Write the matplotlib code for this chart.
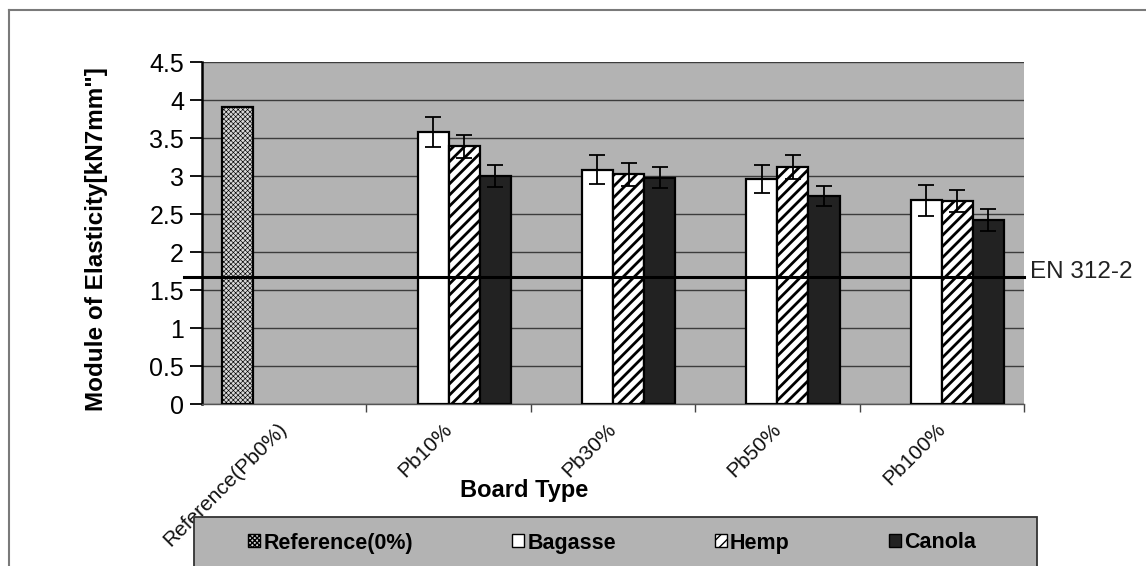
import numpy as np
import matplotlib
matplotlib.use("Agg")
import matplotlib.pyplot as plt
import matplotlib.transforms as mtransforms
from matplotlib.patches import Patch, Rectangle
from matplotlib.lines import Line2D

plt.rcParams['font.family'] = ['Liberation Sans', 'DejaVu Sans']

# ---- data ----
categories = ['Reference(Pb0%)', 'Pb10%', 'Pb30%', 'Pb50%', 'Pb100%']
series_names = ['Reference(0%)', 'Bagasse', 'Hemp', 'Canola']
reference = [3.91, np.nan, np.nan, np.nan, np.nan]
bagasse = [np.nan, 3.58, 3.08, 2.96, 2.68]
bagasse_err = [0, 0.20, 0.19, 0.19, 0.20]
hemp = [np.nan, 3.39, 3.02, 3.12, 2.67]
hemp_err = [0, 0.15, 0.15, 0.155, 0.145]
canola = [np.nan, 3.00, 2.98, 2.74, 2.42]
canola_err = [0, 0.14, 0.14, 0.135, 0.14]
en312_2 = 1.67
yticks = [0, 0.5, 1, 1.5, 2, 2.5, 3, 3.5, 4, 4.5]
ytick_labels = ['0', '0.5', '1', '1.5', '2', '2.5', '3', '3.5', '4', '4.5']

W, H = 1146, 566
fig = plt.figure(figsize=(W / 100, H / 100), dpi=100)
fig.patch.set_facecolor('white')

ax = fig.add_axes([202 / W, 1 - 404 / H, (1024 - 202) / W, (404 - 62) / H])
ax.set_facecolor('#b3b3b3')

x = np.arange(len(categories))
w = 0.189
styles = [
    dict(facecolor='#d8d8d8', hatch='xxxxxxx', edgecolor='black'),
    dict(facecolor='white', edgecolor='black'),
    dict(facecolor='white', hatch='///', edgecolor='black'),
    dict(facecolor='#222222', edgecolor='black'),
]
hatch_lw = [0.45, 1.0, 2.0, 1.0]
values = [reference, bagasse, hemp, canola]
errs = [None, bagasse_err, hemp_err, canola_err]
for k, (vals, err, st) in enumerate(zip(values, errs, styles)):
    pos = x + (k - 1.5) * w
    with plt.rc_context({'hatch.linewidth': hatch_lw[k]}):
        ax.bar(pos, vals, width=w, linewidth=1.6, zorder=3, **st)
    if err is not None:
        v = np.array(vals, dtype=float)
        m = ~np.isnan(v)
        ax.errorbar(pos[m], v[m], yerr=np.array(err)[m], fmt='none',
                    ecolor='black', elinewidth=1.3, capsize=6, capthick=1.3,
                    zorder=4)

# EN 312-2 line
ax.plot([-0.5 - 18 / 164, 4.5], [en312_2, en312_2], color='black', lw=2.2,
        zorder=5, clip_on=False)
ax.text(1.007, en312_2 + 0.07, 'EN 312-2', transform=ax.get_yaxis_transform(),
        fontsize=17.5, va='center', ha='left', color='#222222')

ax.set_xlim(-0.5, 4.5)
ax.set_ylim(0, 4.5)
ax.set_yticks(yticks)
ax.set_yticklabels(ytick_labels, fontsize=18)
ax.yaxis.grid(True, color='#3c3c3c', linewidth=1.0, zorder=0)
ax.set_axisbelow(True)

ax.set_xticks(x)
ax.set_xticklabels(categories, rotation=45, ha='right',
                   fontsize=15, color='#111111')
ax.tick_params(axis='x', length=0, pad=11)
shift = mtransforms.ScaledTranslation(7 / 100, 0, fig.dpi_scale_trans)
for lbl in ax.get_xticklabels():
    lbl.set_transform(lbl.get_transform() + shift)
ax.set_xticks(np.arange(0.5, 5, 1), minor=True)
ax.tick_params(axis='x', which='minor', length=6, width=1, color='#444444')
ax.tick_params(axis='y', length=9, width=1.3, pad=4)

for s in ['top', 'right']:
    ax.spines[s].set_visible(False)
ax.spines['left'].set_linewidth(1.8)
ax.spines['bottom'].set_linewidth(1.0)
ax.spines['bottom'].set_color('#555555')

fig.text(97 / W, 1 - 239 / H, 'Module of Elasticity[kN7mm"]', rotation=90,
         fontsize=17.5, fontweight='bold', ha='center', va='center')
fig.text(524 / W, 1 - 490 / H, 'Board Type', fontsize=17, fontweight='bold',
         ha='center', va='center')

# figure border
fig.add_artist(Line2D([9 / W, 9 / W], [0, 1 - 10 / H], color='#7a7a7a', lw=1.5,
                      transform=fig.transFigure))
fig.add_artist(Line2D([9 / W, 1], [1 - 10 / H, 1 - 10 / H], color='#7a7a7a', lw=1.5,
                      transform=fig.transFigure))

# legend box
fig.add_artist(Rectangle((194 / W, -0.05), (1037 - 194) / W, 0.05 + 1 - 517 / H,
                         transform=fig.transFigure, facecolor='#b3b3b3',
                         edgecolor='#333333', lw=1.3, zorder=1))
with plt.rc_context({'hatch.linewidth': 1.0}):
    handles = [Patch(label=n, linewidth=1.0, **st) for n, st in zip(series_names, styles)]
leg = fig.legend(handles=handles, loc='center', bbox_to_anchor=(612 / W, 1 - 543 / H),
                 ncol=4, frameon=False, handlelength=0.55, handleheight=0.55,
                 handletextpad=0.15, columnspacing=4.6,
                 prop=dict(family=['Liberation Sans'], weight='bold', size=15.5))
leg.set_zorder(2)

fig.savefig('out.png', dpi=100)
